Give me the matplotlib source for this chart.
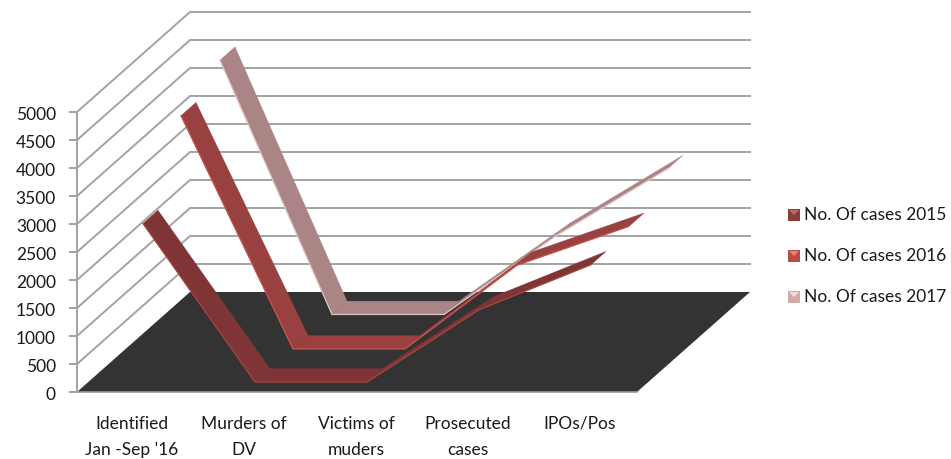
#!/usr/bin/env python

import matplotlib
matplotlib.use('Agg')
import matplotlib.pyplot as plt
from matplotlib.patches import Polygon, Rectangle
import numpy as np

categories = ['Identified\nJan -Sep \'16', 'Murders of\nDV', 'Victims of\nmuders', 'Prosecuted\ncases', 'IPOs/Pos']
series_names = ['No. Of cases 2015', 'No. Of cases 2016', 'No. Of cases 2017']
cases_2015 = [2850, 20, 20, 1310, 2115]
cases_2016 = [4175, 10, 10, 1505, 2200]
cases_2017 = [4550, 10, 10, 1415, 2615]
y_ticks = list(range(0, 5001, 500))

plt.rcParams['font.family'] = ['Lato', 'DejaVu Sans']

# oblique projection of the excel 3d chart, all in pixels of the picture
X0, Y0 = 77, 393
CAT_W = 112
PX_PER_CASE = 280 / 5000
DEPTH_X, DEPTH_Y = 113, -100


def project(cat, value, depth):
    # cat is in category widths from the left wall, depth runs 0 (front) to 1 (back)
    x = X0 + cat * CAT_W + depth * DEPTH_X
    y = Y0 - value * PX_PER_CASE + depth * DEPTH_Y
    return x, y


fig = plt.figure(figsize=(9.51, 4.6), dpi=100)
ax = fig.add_axes([0, 0, 1, 1])
ax.set_xlim(0, 951)
ax.set_ylim(460, 0)
ax.axis('off')

# walls
grid_color = '#a3a3a3'
for v in y_ticks[1:]:
    pts = [project(0, v, 0), project(0, v, 1), project(5, v, 1)]
    ax.plot(*zip(*pts), color=grid_color, lw=1.4, zorder=1, solid_joinstyle='miter')

# floor
floor = [project(0, 0, 0), project(0, 0, 1), project(5, 0, 1), project(5, 0, 0)]
ax.add_patch(Polygon(floor, closed=True, facecolor='#333333', edgecolor='none', zorder=2))
ax.plot(*zip(project(0, 0, 0), project(5, 0, 0)), color='#9a9a9a', lw=1.2, zorder=3)

# value axis
ax.plot(*zip(project(0, 0, 0), project(0, 5000, 0)), color=grid_color, lw=1.4, zorder=3)
for v in y_ticks:
    x, y = project(0, v, 0)
    ax.plot([x - 7, x], [y, y], color=grid_color, lw=1.4, zorder=3)
    ax.text(x - 21, y + 2, str(v), ha='right', va='center', fontsize=12.5, color='#1a1a1a')

for i, name in enumerate(categories):
    x, y = project(i + 0.5, 0, 0)
    ax.text(x - 1, y + 23, name, ha='center', va='top', fontsize=12.5, color='#1a1a1a', linespacing=1.75)

# ribbons, back series first so the front ones cover them
ribbons = [
    (cases_2017, 87, '#ab8585', '#e2c4c4', 4),
    (cases_2016, 48, '#984140', '#c9534f', 5),
    (cases_2015, 10, '#7f3535', '#a8453f', 6),
]
RIBBON_W = 15
for values, front_px, face, edge, z in ribbons:
    d0 = front_px / DEPTH_X
    d1 = (front_px + RIBBON_W) / DEPTH_X
    cats = np.arange(len(values)) + 0.5
    for k in range(len(values) - 1):
        quad = [project(cats[k], values[k], d0), project(cats[k + 1], values[k + 1], d0),
                project(cats[k + 1], values[k + 1], d1), project(cats[k], values[k], d1)]
        ax.add_patch(Polygon(quad, closed=True, facecolor=face, edgecolor=face, lw=0.3, zorder=z))
    front = [project(c, v, d0) for c, v in zip(cats, values)]
    ax.plot(*zip(*front), color=edge, lw=0.9, zorder=z, solid_joinstyle='miter')

# legend
legend_y = [215, 256, 297]
legend_faces = ['#8a3d3b', '#b84a48', '#d3a9a8']
legend_tops = ['#b76a66', '#e08481', '#f0dcdc']
for name, ly, face, top in zip(series_names, legend_y, legend_faces, legend_tops):
    ax.add_patch(Rectangle((788, ly - 5), 12, 12, facecolor=face, edgecolor='none', zorder=3))
    ax.add_patch(Polygon([(789, ly - 4), (799, ly - 4), (794, ly + 1)], closed=True,
                         facecolor=top, edgecolor='none', zorder=4))
    ax.text(804, ly, name, ha='left', va='center', fontsize=12.5, color='#1a1a1a')

fig.savefig('out.png', dpi=100)
